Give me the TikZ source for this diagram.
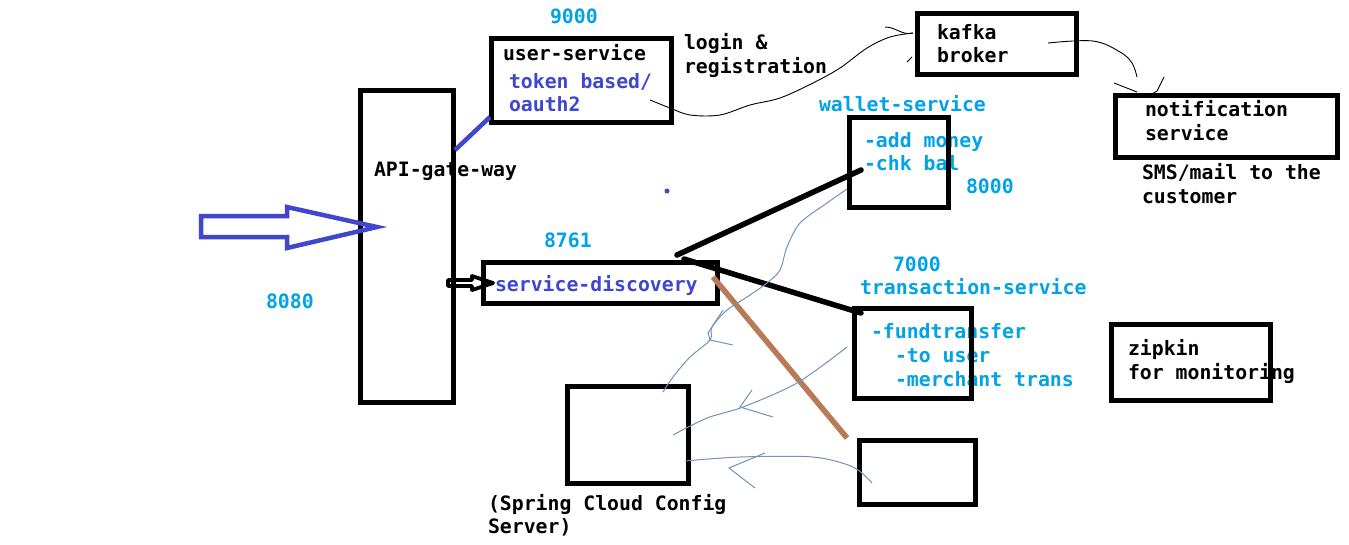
\documentclass[tikz,border=0pt]{standalone}
\usepackage{fontspec}
\newfontfamily\cmono{DejaVu Sans Mono}
\definecolor{cyantxt}{HTML}{00A2E8}
\definecolor{purp}{HTML}{3F48CC}
\definecolor{brownln}{HTML}{B97A57}
\definecolor{thinblue}{HTML}{7092BE}
\newcommand\dfs{\cmono\fontsize{19.8}{23.5}\selectfont\bfseries}
\tikzset{
  box/.style={draw=black, line width=5pt, rectangle, inner sep=0pt, outer sep=0pt},
  txt/.style={anchor=base west, inner sep=0pt, outer sep=0pt, font=\dfs},
  ctxt/.style={txt, text=cyantxt},
  ptxt/.style={txt, text=purp},
  thick5/.style={line width=5.5pt, line cap=round},
  hand/.style={line width=0.9pt, black},
  handblue/.style={line width=1pt, thinblue},
}
\begin{document}
\begin{tikzpicture}[x=1pt,y=-1pt]
\useasboundingbox (0,0) rectangle (1349,544);
\fill[white] (0,0) rectangle (1349,544);

% texts
\node[ctxt] (p9000) at (550,23) {9000};
\node[txt] (tuser) at (503,60) {user-service};
\node[ptxt] (ttok) at (509,88) {token based/};
\node[ptxt] (toau) at (509,111) {oauth2};
\node[txt] (tlog1) at (684,49) {login \&};
\node[txt] (tlog2) at (684,73) {registration};
\node[txt] (tkaf1) at (937,39) {kafka};
\node[txt] (tkaf2) at (937,62) {broker};
\node[txt] (tnot1) at (1145,116) {notification};
\node[txt] (tnot2) at (1145,140) {service};
\node[txt] (tsms1) at (1142,179) {SMS/mail to the};
\node[txt] (tsms2) at (1142,203) {customer};
\node[ctxt] (twal) at (819,111) {wallet-service};
\node[ctxt] (tadd) at (864,147) {-add money};
\node[ctxt] (tchk) at (864,170) {-chk bal};
\node[ctxt] (p8000) at (966,193) {8000};
\node[txt] (tapi) at (374,176) {API-gate-way};
\node[ctxt] (p8761) at (544,247) {8761};
\node[ptxt] (tsd) at (495,291) {service-discovery};
\node[ctxt] (p8080) at (266,308) {8080};
\node[ctxt] (p7000) at (893,271) {7000};
\node[ctxt] (ttrs) at (860,294) {transaction-service};
\node[ctxt] (tfund) at (871,338) {-fundtransfer};
\node[ctxt] (tto) at (895,362) {-to user};
\node[ctxt] (tmer) at (895,386) {-merchant trans};
\node[txt] (tzip1) at (1128,355) {zipkin};
\node[txt] (tzip2) at (1128,379) {for monitoring};
\node[txt] (tcfg1) at (488,510) {(Spring Cloud Config};
\node[txt] (tcfg2) at (488,533) {Server)};

% boxes
\node[box, minimum width=93pt, minimum height=312pt] (api) at (406.5,246) {};
\node[box, minimum width=180pt, minimum height=84pt] (user) at (581,80) {};
\node[box, minimum width=159pt, minimum height=61pt] (kafka) at (996.5,44) {};
\node[box, minimum width=222pt, minimum height=62pt] (notif) at (1226,126) {};
\node[box, minimum width=99pt, minimum height=90pt] (wallet) at (898.5,162) {};
\node[box, minimum width=234pt, minimum height=41pt] (sd) at (600,282.5) {};
\node[box, minimum width=117pt, minimum height=90pt] (trans) at (912.5,353) {};
\node[box, minimum width=159pt, minimum height=76pt] (zipkin) at (1190.5,362) {};
\node[box, minimum width=121pt, minimum height=97pt] (config) at (627.5,434.5) {};
\node[box, minimum width=116pt, minimum height=64pt] (extra) at (917,472.5) {};

% big hollow input arrow
\coordinate (inTip) at (377,227);
\draw[purp, line width=4.5pt, line join=miter]
  (201,216) -- (287,216) -- (287,207) -- (inTip) -- (287,248) -- (287,237) -- (201,237) -- cycle;

% small hollow arrow api -> service-discovery
\coordinate (sdTip) at (493,283);
\draw[black, line width=3.8pt, line join=round]
  (448,280) -- (472,280) -- (472,276) -- (sdTip) -- (472,290) -- (472,286) -- (448,286) -- cycle;

% api -> user-service blue line
\coordinate (apiU) at (455,150);
\coordinate (userL) at (490,117);
\draw[purp, line width=4.5pt] (apiU) -- (userL);

% dot
\fill[purp] (667,191) circle (2.5pt);

% service discovery links
\coordinate (sdA) at (677,255);
\coordinate (walA) at (861,170);
\coordinate (sdB) at (684,259);
\coordinate (trsA) at (861,313);
\coordinate (sdC) at (713,277);
\coordinate (extA) at (847,438);
\draw[thick5] (sdA) -- (walA);
\draw[thick5] (sdB) -- (trsA);
\draw[line width=5.5pt, brownln] (sdC) -- (extA);

% hand-drawn black curves
\draw[hand] plot[smooth, tension=0.55] coordinates {(650,100) (670,108) (690,115) (720,115) (750,105) (780,98) (813,83) (840,68) (867,48) (890,37) (913,33)};
\draw[hand] (885,27) to[out=0,in=195] (913,33);
\draw[hand] (907,62) -- (912,57);
\draw[hand] plot[smooth, tension=0.6] coordinates {(1048,43) (1093,41) (1120,52) (1132,63) (1137,77)};
\draw[hand] (1114,83) -- (1137,92);
\draw[hand] (1164,77) -- (1157,91) -- (1150,95);

% thin blue hand-drawn curves
\draw[handblue] plot[smooth, tension=0.5] coordinates {(847,189) (827,203) (800,223) (787,247) (780,270) (767,283) (747,297) (727,310) (712,327) (710,340) (690,357) (673,377) (663,392)};
\draw[handblue] (710,340) -- (733,345);
\draw[handblue] (723,310) -- (708,333) -- (710,340);
\draw[handblue] plot[smooth, tension=0.5] coordinates {(847,347) (797,383) (743,407) (707,418) (673,435)};
\draw[handblue] (752,390) -- (740,407) -- (773,417);
\draw[handblue] plot[smooth, tension=0.5] coordinates {(872,483) (853,467) (813,457) (740,457) (685,461)};
\draw[handblue] (765,453) -- (729,468) -- (755,488);
\end{tikzpicture}
\end{document}
